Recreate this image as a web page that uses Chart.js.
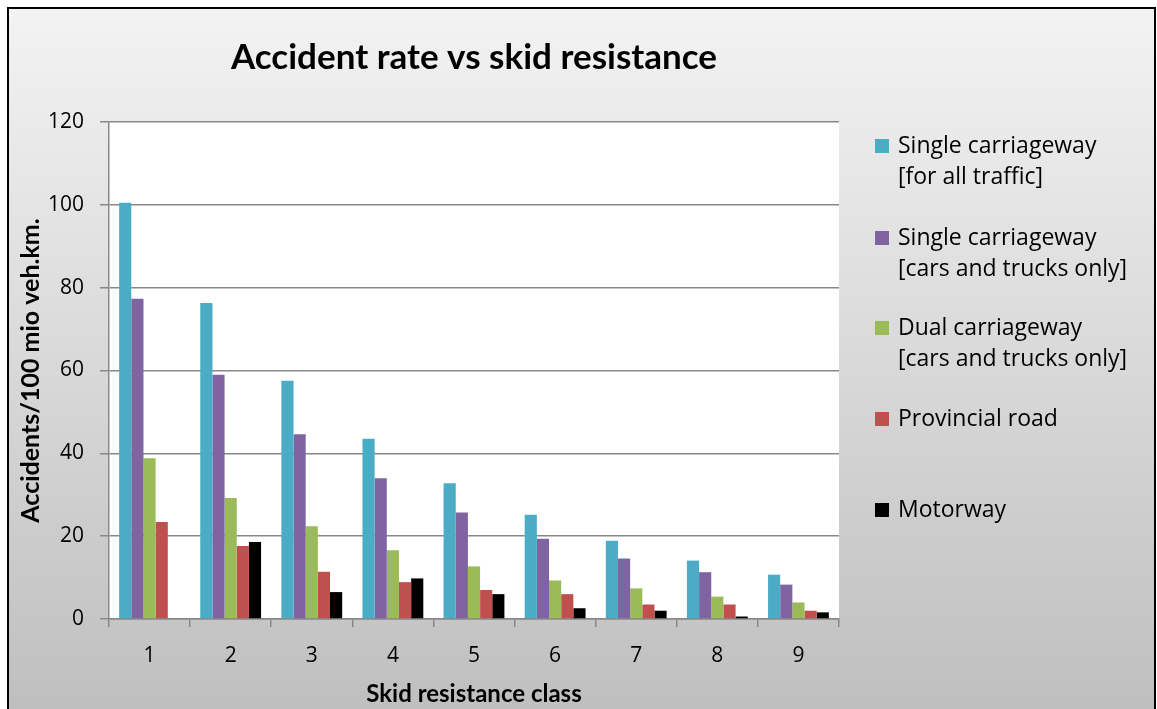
<!DOCTYPE html>
<html>
<head>
<meta charset="utf-8">
<title>Accident rate vs skid resistance</title>
<script src="https://cdn.jsdelivr.net/npm/chart.js@4.4.1/dist/chart.umd.min.js"></script>
<style>
    body { margin: 0; background: #fff; }
    #chart { position: absolute; left: 0; top: 0; }
</style>
</head>
<body>

<canvas id="chart" width="1157" height="709"></canvas>

<script>

    const classes = ['1', '2', '3', '4', '5', '6', '7', '8', '9']

    const singleAll = [100.5, 76.3, 57.5, 43.5, 32.8, 25.2, 18.9, 14.1, 10.7]
    const singleCarsTrucks = [77.3, 59.0, 44.6, 34.0, 25.7, 19.4, 14.6, 11.3, 8.3]
    const dualCarsTrucks = [38.8, 29.2, 22.4, 16.6, 12.7, 9.3, 7.4, 5.4, 4.0]
    const provincial = [23.4, 17.6, 11.4, 8.9, 7.0, 6.0, 3.5, 3.5, 2.0]
    const motorway = [null, 18.6, 6.5, 9.8, 6.0, 2.6, 2.0, 0.6, 1.6]

    const seriesLabels = [
        ['Single carriageway', '[for all traffic]'],
        ['Single carriageway', '[cars and trucks only]'],
        ['Dual carriageway', '[cars and trucks only]'],
        ['Provincial road'],
        ['Motorway']
    ]
    const seriesColors = ['#4bacc6', '#8064a2', '#9bbb59', '#c0504d', '#000000']
    const seriesValues = [singleAll, singleCarsTrucks, dualCarsTrucks, provincial, motorway]

    const yTicks = [0, 20, 40, 60, 80, 100, 120]

    const legendRows = [146, 238, 328, 419, 510]

    // grey gradient panel with black frame, white plot area
    const backdrop = {
        id: 'backdrop',
        beforeDraw(chart) {
            const {ctx, chartArea} = chart
            ctx.save()
            ctx.fillStyle = '#fff'
            ctx.fillRect(0, 0, chart.width, chart.height)
            const g = ctx.createLinearGradient(0, 8, 0, chart.height)
            g.addColorStop(0, '#f3f3f3')
            g.addColorStop(1, '#bfbfbf')
            ctx.fillStyle = g
            ctx.fillRect(8, 8, chart.width - 10, chart.height)
            ctx.fillStyle = '#fff'
            ctx.fillRect(chartArea.left, chartArea.top, chartArea.right - chartArea.left, chartArea.bottom - chartArea.top)
            ctx.strokeStyle = '#000'
            ctx.lineWidth = 2
            ctx.strokeRect(8, 8, chart.width - 10, chart.height + 20)
            ctx.restore()
        }
    }

    const sideLegend = {
        id: 'sideLegend',
        afterDraw(chart) {
            const {ctx} = chart
            ctx.save()
            ctx.font = '23px "Open Sans"'
            ctx.textBaseline = 'middle'
            ctx.textAlign = 'left'
            chart.data.datasets.forEach((ds, i) => {
                const y = legendRows[i]
                ctx.fillStyle = ds.backgroundColor
                ctx.fillRect(875, y - 7, 14, 14)
                ctx.fillStyle = '#000'
                seriesLabels[i].forEach((line, j) => {
                    ctx.fillText(line, 898, y + j * 31)
                })
            })
            ctx.restore()
        }
    }

    new Chart(document.getElementById('chart'), {
        type: 'bar',
        data: {
            labels: classes,
            datasets: seriesValues.map((vals, i) => ({
                label: seriesLabels[i].join(' '),
                data: vals,
                backgroundColor: seriesColors[i],
                borderWidth: 0,
                categoryPercentage: 0.75,
                barPercentage: 1.0
            }))
        },
        options: {
            responsive: false,
            animation: false,
            devicePixelRatio: 1,
            layout: { padding: { left: 10, right: 318, top: 0, bottom: 0 } },
            plugins: {
                legend: { display: false },
                tooltip: { enabled: false },
                title: {
                    display: true,
                    text: 'Accident rate vs skid resistance',
                    fullSize: false,
                    color: '#000',
                    font: { family: 'Lato', size: 35, weight: 'bold' },
                    padding: { top: 37, bottom: 43 }
                }
            },
            scales: {
                x: {
                    offset: true,
                    grid: { display: true, drawOnChartArea: false, offset: true, tickLength: 8, color: '#888', lineWidth: 1.5 },
                    border: { color: '#888', width: 1.5 },
                    ticks: { color: '#000', font: { family: 'Open Sans', size: 21 }, padding: 16 },
                    title: {
                        display: true,
                        text: 'Skid resistance class',
                        color: '#000',
                        font: { family: 'Lato', size: 24, weight: 'bold' },
                        padding: { top: 0, bottom: 0 }
                    },
                    afterFit: s => { s.height = 90 }
                },
                y: {
                    min: 0,
                    max: 120,
                    afterBuildTicks: s => { s.ticks = yTicks.map(v => ({value: v})) },
                    grid: { color: '#888', lineWidth: 1.5, tickLength: 9 },
                    border: { color: '#888', width: 1.5 },
                    ticks: { color: '#000', font: { family: 'Open Sans', size: 21 }, padding: 16 },
                    title: {
                        display: true,
                        text: 'Accidents/100 mio veh.km.',
                        color: '#000',
                        font: { family: 'Lato', size: 25, weight: 'bold' },
                        padding: { top: 6, bottom: 0 }
                    },
                    afterFit: s => { s.width = 99 }
                }
            }
        },
        plugins: [backdrop, sideLegend]
    })

</script>
</body>
</html>
